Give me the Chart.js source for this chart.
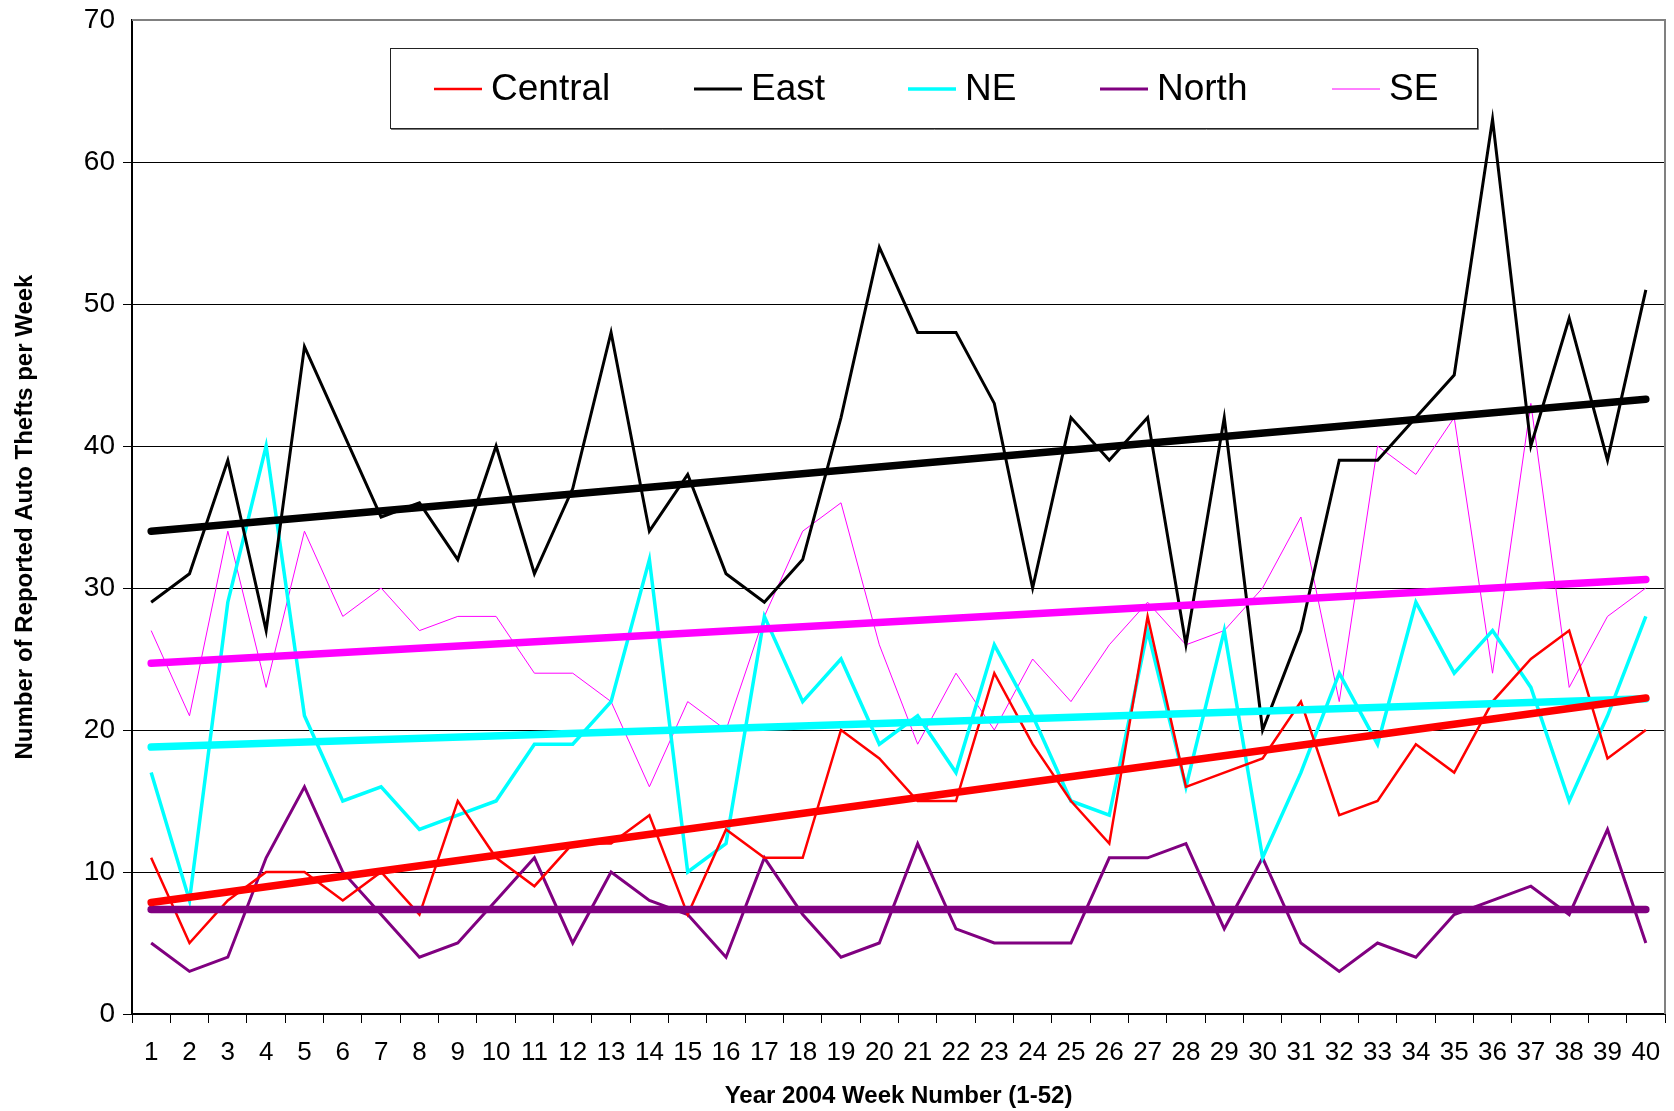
<!DOCTYPE html>
<html>
<head>
<meta charset="utf-8">
<script src="https://cdn.jsdelivr.net/npm/chart.js@4.4.1/dist/chart.umd.min.js"></script>
<style>
  body { margin: 0; background: #fff; }
  canvas { display: block; }
</style>
</head>
<body>
<canvas id="theftChart" width="1674" height="1111"></canvas>
<script>
// week numbers on the x axis
const weeks = ['1','2','3','4','5','6','7','8','9','10','11','12','13','14','15','16','17','18','19','20',
               '21','22','23','24','25','26','27','28','29','30','31','32','33','34','35','36','37','38','39','40'];

const central = [11, 5, 8, 10, 10, 8, 10, 7, 15, 11, 9, 12, 12, 14, 7, 13, 11, 11, 20, 18,
                 15, 15, 24, 19, 15, 12, 28, 16, 17, 18, 22, 14, 15, 19, 17, 22, 25, 27, 18, 20];
const east    = [29, 31, 39, 27, 47, 41, 35, 36, 32, 40, 31, 37, 48, 34, 38, 31, 29, 32, 42, 54,
                 48, 48, 43, 30, 42, 39, 42, 26, 42, 20, 27, 39, 39, 42, 45, 63, 40, 49, 39, 51];
const ne      = [17, 8, 29, 40, 21, 15, 16, 13, 14, 15, 19, 19, 22, 32, 10, 12, 28, 22, 25, 19,
                 21, 17, 26, 21, 15, 14, 27, 16, 27, 11, 17, 24, 19, 29, 24, 27, 23, 15, 21, 28];
const north   = [5, 3, 4, 11, 16, 10, 7, 4, 5, 8, 11, 5, 10, 8, 7, 4, 11, 7, 4, 5,
                 12, 6, 5, 5, 5, 11, 11, 12, 6, 11, 5, 3, 5, 4, 7, 8, 9, 7, 13, 5];
const se      = [27, 21, 34, 23, 34, 28, 30, 27, 28, 28, 24, 24, 22, 16, 22, 20, 28, 34, 36, 26,
                 19, 24, 20, 25, 22, 26, 29, 26, 27, 30, 35, 22, 40, 38, 42, 24, 43, 23, 28, 30];

// trend line values at week 1 and week 40
const trendCentral = [7.85, 22.25];
const trendEast    = [34.0, 43.3];
const trendNE      = [18.8, 22.2];
const trendNorth   = [7.36, 7.36];
const trendSE      = [24.7, 30.6];

const yTicks = [0, 10, 20, 30, 40, 50, 60, 70];

const seriesNames  = ['Central', 'East', 'NE', 'North', 'SE'];
const seriesColors = ['#ff0000', '#000000', '#00ffff', '#800080', '#ff00ff'];
const seriesWidths = [2.5, 3, 3.5, 3, 1];
const seriesData   = [central, east, ne, north, se];
const trendData    = [trendCentral, trendEast, trendNE, trendNorth, trendSE];

const FONT = '"Liberation Sans", Arial, sans-serif';

const datasets = [];
seriesNames.forEach((name, i) => {
    datasets.push({
        label: name,
        data: seriesData[i],
        borderColor: seriesColors[i],
        borderWidth: seriesWidths[i],
        pointRadius: 0,
        tension: 0,
        fill: false,
        order: 1
    });
});
seriesNames.forEach((name, i) => {
    datasets.push({
        label: name + ' trend',
        data: [{ x: weeks[0], y: trendData[i][0] }, { x: weeks[weeks.length - 1], y: trendData[i][1] }],
        borderColor: seriesColors[i],
        borderWidth: 7.5,
        borderCapStyle: 'round',
        pointRadius: 0,
        tension: 0,
        fill: false,
        order: 0
    });
});

// legend box drawn inside the plot, plus grey top/right frame
const boxLegend = {
    id: 'boxLegend',
    afterDatasetsDraw(chart) {
        const ctx = chart.ctx;
        const area = chart.chartArea;
        ctx.save();
        ctx.strokeStyle = '#808080';
        ctx.lineWidth = 2;
        ctx.beginPath();
        ctx.moveTo(area.left, area.top);
        ctx.lineTo(area.right, area.top);
        ctx.lineTo(area.right, area.bottom);
        ctx.stroke();

        const bx = 390, by = 48, bw = 1087, bh = 80;
        ctx.fillStyle = '#fff';
        ctx.fillRect(bx, by, bw, bh);
        ctx.strokeStyle = '#222';
        ctx.lineWidth = 1;
        ctx.strokeRect(bx + 0.5, by + 0.5, bw, bh);
        ctx.strokeStyle = '#777';
        ctx.beginPath();
        ctx.moveTo(bx + 1, by + bh + 1.5);
        ctx.lineTo(bx + bw + 1.5, by + bh + 1.5);
        ctx.lineTo(bx + bw + 1.5, by + 1);
        ctx.stroke();

        const lineStarts = [434, 694, 908, 1100, 1332];
        const cy = 89;
        ctx.font = '37px ' + FONT;
        ctx.textBaseline = 'middle';
        seriesNames.forEach((name, i) => {
            ctx.strokeStyle = seriesColors[i];
            ctx.lineWidth = seriesWidths[i];
            ctx.beginPath();
            ctx.moveTo(lineStarts[i], cy);
            ctx.lineTo(lineStarts[i] + 48, cy);
            ctx.stroke();
            ctx.fillStyle = '#000';
            ctx.fillText(name, lineStarts[i] + 57, cy + 1);
        });
        ctx.restore();
    }
};

new Chart(document.getElementById('theftChart'), {
    type: 'line',
    data: { labels: weeks, datasets: datasets },
    options: {
        responsive: false,
        animation: false,
        devicePixelRatio: 1,
        layout: { padding: { top: 20, right: 9, left: 0, bottom: 0 } },
        plugins: {
            legend: { display: false },
            tooltip: { enabled: false }
        },
        scales: {
            x: {
                type: 'category',
                offset: true,
                grid: {
                    offset: true,
                    drawOnChartArea: false,
                    color: '#000',
                    tickLength: 9
                },
                border: { color: '#000', width: 2 },
                ticks: {
                    autoSkip: false,
                    maxRotation: 0,
                    padding: 14,
                    color: '#000',
                    font: { family: FONT, size: 26 }
                },
                title: {
                    display: true,
                    text: 'Year 2004 Week Number (1-52)',
                    color: '#000',
                    font: { family: FONT, size: 24, weight: 'bold' },
                    padding: { top: 0, bottom: 0 }
                },
                afterFit(scale) {
                    scale.height = 97;
                    scale.paddingLeft = 0;
                    scale.paddingRight = 0;
                }
            },
            y: {
                min: 0,
                max: 70,
                afterBuildTicks(scale) { scale.ticks = yTicks.map(v => ({ value: v })); },
                grid: {
                    color: ctx => (ctx.tick && ctx.tick.value === 70) ? 'rgba(0,0,0,0)' : '#000',
                    lineWidth: 1,
                    tickLength: 9
                },
                border: { color: '#000', width: 2 },
                ticks: {
                    padding: 8,
                    color: '#000',
                    font: { family: FONT, size: 28 }
                },
                title: {
                    display: true,
                    text: 'Number of Reported Auto Thefts per Week',
                    color: '#000',
                    font: { family: FONT, size: 24, weight: 'bold' },
                    padding: { top: 11, bottom: 0 }
                },
                afterFit(scale) {
                    scale.width = 132;
                    scale.paddingTop = 0;
                    scale.paddingBottom = 0;
                }
            }
        }
    },
    plugins: [boxLegend]
});
</script>
</body>
</html>
